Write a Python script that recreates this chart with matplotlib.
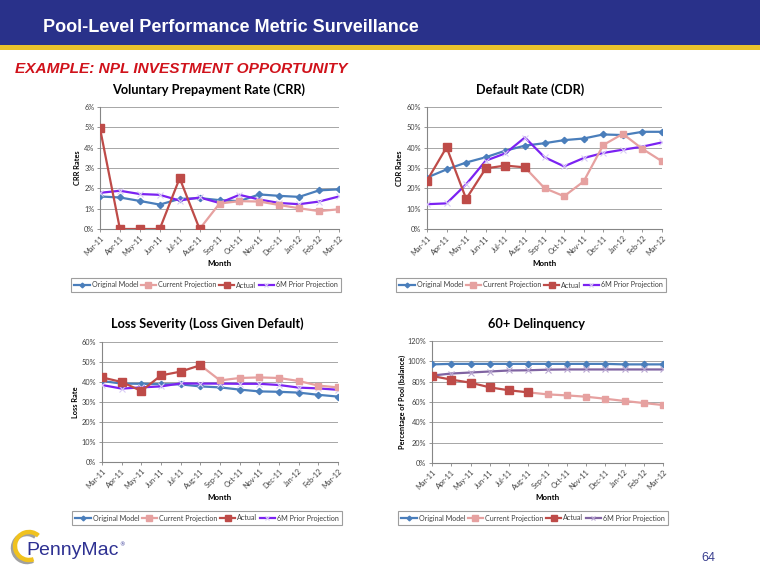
import numpy as np
import matplotlib
matplotlib.use("Agg")
import matplotlib.pyplot as plt
from matplotlib.patches import Rectangle, Arc

nan = np.nan
months = ["Mar-11", "Apr-11", "May-11", "Jun-11", "Jul-11", "Aug-11", "Sep-11",
          "Oct-11", "Nov-11", "Dec-11", "Jan-12", "Feb-12", "Mar-12"]
series_names = ["Original Model", "Current Projection", "Actual", "6M Prior Projection"]

# Voluntary Prepayment Rate (CRR), %
crr_original = [1.6, 1.55, 1.38, 1.2, 1.48, 1.52, 1.42, 1.37, 1.7, 1.63, 1.58, 1.9, 1.95]
crr_current = [nan, nan, nan, nan, nan, 0.0, 1.25, 1.37, 1.35, 1.18, 1.02, 0.88, 0.97]
crr_actual = [4.95, 0.0, 0.0, 0.0, 2.5, 0.0, nan, nan, nan, nan, nan, nan, nan]
crr_prior = [1.78, 1.88, 1.72, 1.68, 1.4, 1.55, 1.28, 1.68, 1.45, 1.28, 1.22, 1.35, 1.6]

# Default Rate (CDR), %
cdr_original = [25.3, 29.3, 32.7, 35.3, 38.5, 41.0, 42.2, 43.7, 44.5, 46.5, 46.2, 47.8, 47.8]
cdr_current = [nan, nan, nan, nan, nan, 30.3, 20.1, 16.1, 23.4, 41.3, 46.8, 39.4, 33.3]
cdr_actual = [23.8, 40.2, 14.8, 29.8, 31.2, 30.3, nan, nan, nan, nan, nan, nan, nan]
cdr_prior = [12.2, 12.6, 22.0, 33.6, 37.2, 45.0, 35.3, 30.8, 34.9, 37.4, 39.0, 40.5, 42.6]

# Loss Severity (LGD), %
lgd_original = [40.5, 39.2, 39.1, 38.9, 38.8, 37.8, 37.3, 36.2, 35.3, 35.1, 34.7, 33.6, 32.7]
lgd_current = [nan, nan, nan, nan, nan, 48.4, 40.8, 42.0, 42.3, 42.0, 40.5, 38.2, 37.3]
lgd_actual = [42.3, 40.0, 35.5, 43.3, 45.2, 48.4, nan, nan, nan, nan, nan, nan, nan]
lgd_prior = [38.5, 36.7, 37.3, 37.8, 39.3, 39.2, 39.2, 39.1, 39.1, 38.5, 37.2, 36.8, 36.1]

# 60+ Delinquency, % of pool balance
dq_original = [97.0, 97.5, 97.5, 97.5, 97.5, 97.5, 97.5, 97.5, 97.5, 97.5, 97.0, 97.0, 97.0]
dq_current = [nan, nan, nan, nan, nan, 69.5, 67.5, 66.5, 65.2, 63.2, 61.0, 59.0, 57.0]
dq_actual = [85.6, 82.0, 79.0, 74.4, 71.5, 69.5, nan, nan, nan, nan, nan, nan, nan]
dq_prior = [86.0, 88.0, 89.0, 90.0, 91.0, 91.2, 91.8, 92.0, 92.0, 92.0, 92.0, 92.0, 92.0]

W, H = 760, 587
fig = plt.figure(figsize=(W / 100, H / 100), dpi=100)

def fx(x):
    return x / W

def fy(y):
    return 1 - y / H

# Header
fig.add_artist(Rectangle((0, fy(45)), 1, 45 / H, transform=fig.transFigure,
                         facecolor="#29318A", edgecolor="none"))
fig.add_artist(Rectangle((0, fy(50)), 1, 5 / H, transform=fig.transFigure,
                         facecolor="#E9C12B", edgecolor="none"))
fig.text(fx(43), fy(28), "Pool-Level Performance Metric Surveillance", color="white",
         fontsize=13, fontweight="bold", family="Liberation Sans", va="center", ha="left")
fig.text(fx(15), fy(69), "EXAMPLE: NPL INVESTMENT OPPORTUNITY", color="#D0121B",
         fontsize=11.1, fontweight="bold", style="italic", family="Liberation Sans",
         va="center", ha="left")

C_ORIG = "#4A7EBB"
C_CUR = "#E6A1A0"
C_ACT = "#BE4B48"
FONT = "Lato"

def make_chart(box, title, title_xy, ylabel, ylabel_x, ymax, ystep, data, prior_color,
               prior_marker_color, legend_center, month_y):
    left, top, right, bottom = box
    ax = fig.add_axes([fx(left), fy(bottom), fx(right - left), (bottom - top) / H])
    x = np.arange(len(months))
    orig, cur, act, prior = data
    ax.plot(x, orig, color=C_ORIG, lw=1.6, marker="D", ms=3.2, mfc=C_ORIG, mec=C_ORIG,
            label=series_names[0], zorder=3)
    ax.plot(x, cur, color=C_CUR, lw=1.6, marker="s", ms=5, mfc=C_CUR, mec=C_CUR,
            label=series_names[1], zorder=4)
    ax.plot(x, act, color=C_ACT, lw=1.6, marker="s", ms=5.5, mfc=C_ACT, mec=C_ACT,
            label=series_names[2], zorder=5)
    ax.plot(x, prior, color=prior_color, lw=1.6, marker="x", ms=4, mew=0.8,
            mec=prior_marker_color, label=series_names[3], zorder=3)
    ax.set_xlim(0, len(months) - 1)
    ax.set_ylim(0, ymax)
    yt = np.arange(0, ymax + 1e-9, ystep)
    ax.set_yticks(yt)
    ax.set_yticklabels([f"{int(round(v))}%" for v in yt], fontsize=5.3, color="#404040",
                       family=FONT)
    ax.set_xticks(x)
    ax.set_xticklabels(months, rotation=45, ha="right", rotation_mode="anchor",
                       fontsize=5.3, color="#404040", family=FONT)
    ax.grid(axis="y", color="#A6A6A6", lw=0.7)
    ax.set_axisbelow(True)
    for s in ["top", "right"]:
        ax.spines[s].set_visible(False)
    for s in ["left", "bottom"]:
        ax.spines[s].set_color("#868686")
        ax.spines[s].set_linewidth(0.8)
    ax.tick_params(axis="both", length=2.5, width=0.6, color="#868686", pad=1.5)
    fig.text(fx(title_xy[0]), fy(title_xy[1]), title, fontsize=9.2, fontweight="bold",
             family=FONT, ha="center", va="center", color="black")
    fig.text(fx(ylabel_x), fy((top + bottom) / 2), ylabel, rotation=90, fontsize=5.3,
             fontweight="bold", family=FONT, ha="center", va="center", color="black")
    fig.text(fx((left + right) / 2), fy(month_y), "Month", fontsize=5.8, fontweight="bold",
             family=FONT, ha="center", va="center", color="black")
    handles, labels = ax.get_legend_handles_labels()
    leg = fig.legend(handles, labels, loc="center", ncol=4,
                     bbox_to_anchor=(fx(legend_center[0]), fy(legend_center[1])),
                     prop={"family": FONT, "size": 5.1}, frameon=True, markerscale=0.75,
                     fancybox=False, edgecolor="#868686", handlelength=2.2,
                     handletextpad=0.25, columnspacing=0.35, borderpad=0.5,
                     borderaxespad=0)
    leg.get_frame().set_linewidth(0.8)
    for t in leg.get_texts():
        t.set_color("#404040")
    return ax

make_chart((100, 107, 339, 229), "Voluntary Prepayment Rate (CRR)", (209, 90), "CRR Rates", 77,
           6, 1, (crr_original, crr_current, crr_actual, crr_prior), "#7B22F2", "#D9CCF5",
           (206, 285), 263)
make_chart((427, 107, 662, 229), "Default Rate (CDR)", (530, 90), "CDR Rates", 399,
           60, 10, (cdr_original, cdr_current, cdr_actual, cdr_prior), "#7B22F2", "#D9CCF5",
           (531, 285), 263)
make_chart((102, 342, 338, 462), "Loss Severity (Loss Given Default)", (207, 324), "Loss Rate", 75,
           60, 10, (lgd_original, lgd_current, lgd_actual, lgd_prior), "#7B22F2", "#D9CCF5",
           (207, 518), 497)
make_chart((432, 341, 663, 463), "60+ Delinquency", (537, 324), "Percentage of Pool (balance)", 402,
           120, 20, (dq_original, dq_current, dq_actual, dq_prior), "#8064A2", "#B9A8D2",
           (533, 518), 497)

# Footer: logo and page number
fig.add_artist(Arc((fx(27), fy(548)), 28 / W, 28 / H, angle=0, theta1=60, theta2=290,
                   transform=fig.transFigure, color="#A0A0A0", lw=3.2))
fig.add_artist(Arc((fx(29), fy(546)), 28 / W, 28 / H, angle=0, theta1=55, theta2=285,
                   transform=fig.transFigure, color="#F0C21E", lw=3.2))
fig.text(fx(26), fy(555), "PennyMac", fontsize=14, color="#2E3192", family="Liberation Sans",
         ha="left", va="baseline")
fig.text(fx(119), fy(545), "®", fontsize=4, color="#2E3192", family="DejaVu Sans",
         ha="left", va="center")
fig.text(fx(708), fy(558), "64", fontsize=9, color="#3A3F8F", family="Liberation Sans",
         ha="center", va="center")

fig.savefig("out.png", dpi=100)
